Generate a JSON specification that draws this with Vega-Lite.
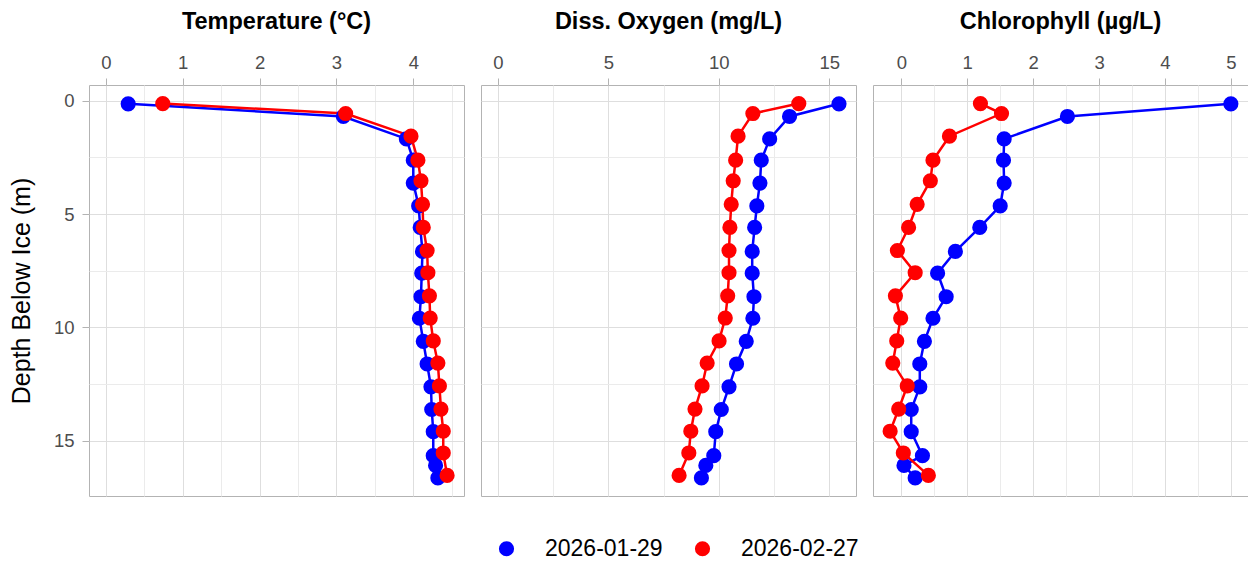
{
  "$schema": "https://vega.github.io/schema/vega-lite/v6.json",
  "padding": {"left": 8, "top": 9, "right": 2, "bottom": 2},
  "background": "white",
  "data": {"values": [
    {"date": "2026-01-29", "depth": 0.13, "temp": 0.29, "do": 15.44, "chl": 5.00},
    {"date": "2026-01-29", "depth": 0.69, "temp": 3.09, "do": 13.20, "chl": 2.52},
    {"date": "2026-01-29", "depth": 1.68, "temp": 3.91, "do": 12.30, "chl": 1.56},
    {"date": "2026-01-29", "depth": 2.62, "temp": 4.00, "do": 11.92, "chl": 1.55},
    {"date": "2026-01-29", "depth": 3.63, "temp": 4.00, "do": 11.86, "chl": 1.56},
    {"date": "2026-01-29", "depth": 4.64, "temp": 4.07, "do": 11.72, "chl": 1.50},
    {"date": "2026-01-29", "depth": 5.59, "temp": 4.09, "do": 11.62, "chl": 1.19},
    {"date": "2026-01-29", "depth": 6.65, "temp": 4.12, "do": 11.51, "chl": 0.82},
    {"date": "2026-01-29", "depth": 7.61, "temp": 4.11, "do": 11.51, "chl": 0.55},
    {"date": "2026-01-29", "depth": 8.65, "temp": 4.10, "do": 11.59, "chl": 0.68},
    {"date": "2026-01-29", "depth": 9.60, "temp": 4.08, "do": 11.54, "chl": 0.48},
    {"date": "2026-01-29", "depth": 10.62, "temp": 4.13, "do": 11.24, "chl": 0.35},
    {"date": "2026-01-29", "depth": 11.62, "temp": 4.18, "do": 10.80, "chl": 0.28},
    {"date": "2026-01-29", "depth": 12.63, "temp": 4.23, "do": 10.46, "chl": 0.28},
    {"date": "2026-01-29", "depth": 13.63, "temp": 4.24, "do": 10.11, "chl": 0.15},
    {"date": "2026-01-29", "depth": 14.61, "temp": 4.26, "do": 9.86, "chl": 0.15},
    {"date": "2026-01-29", "depth": 15.67, "temp": 4.26, "do": 9.77, "chl": 0.32},
    {"date": "2026-01-29", "depth": 16.10, "temp": 4.29, "do": 9.41, "chl": 0.04},
    {"date": "2026-01-29", "depth": 16.65, "temp": 4.32, "do": 9.21, "chl": 0.21},
    {"date": "2026-02-27", "depth": 0.12, "temp": 0.74, "do": 13.62, "chl": 1.20},
    {"date": "2026-02-27", "depth": 0.56, "temp": 3.12, "do": 11.54, "chl": 1.52},
    {"date": "2026-02-27", "depth": 1.56, "temp": 3.97, "do": 10.87, "chl": 0.73},
    {"date": "2026-02-27", "depth": 2.62, "temp": 4.06, "do": 10.76, "chl": 0.48},
    {"date": "2026-02-27", "depth": 3.53, "temp": 4.10, "do": 10.65, "chl": 0.44},
    {"date": "2026-02-27", "depth": 4.57, "temp": 4.12, "do": 10.56, "chl": 0.24},
    {"date": "2026-02-27", "depth": 5.59, "temp": 4.13, "do": 10.50, "chl": 0.11},
    {"date": "2026-02-27", "depth": 6.61, "temp": 4.18, "do": 10.46, "chl": -0.06},
    {"date": "2026-02-27", "depth": 7.59, "temp": 4.19, "do": 10.46, "chl": 0.21},
    {"date": "2026-02-27", "depth": 8.61, "temp": 4.21, "do": 10.40, "chl": -0.09},
    {"date": "2026-02-27", "depth": 9.59, "temp": 4.22, "do": 10.29, "chl": -0.01},
    {"date": "2026-02-27", "depth": 10.60, "temp": 4.26, "do": 10.01, "chl": -0.07},
    {"date": "2026-02-27", "depth": 11.58, "temp": 4.32, "do": 9.47, "chl": -0.13},
    {"date": "2026-02-27", "depth": 12.59, "temp": 4.34, "do": 9.24, "chl": 0.09},
    {"date": "2026-02-27", "depth": 13.61, "temp": 4.36, "do": 8.92, "chl": -0.04},
    {"date": "2026-02-27", "depth": 14.59, "temp": 4.39, "do": 8.73, "chl": -0.17},
    {"date": "2026-02-27", "depth": 15.55, "temp": 4.39, "do": 8.64, "chl": 0.03},
    {"date": "2026-02-27", "depth": 16.54, "temp": 4.44, "do": 8.20, "chl": 0.41}
  ]},
  "spacing": 15,
  "hconcat": [
    {
      "width": 375, "height": 411,
      "title": {"text": "Temperature (°C)"},
      "encoding": {
        "x": {"field": "temp", "type": "quantitative",
          "scale": {"domain": [-0.22, 4.66], "nice": false, "zero": false},
          "axis": {"orient": "top", "title": null, "values": [0,0.5,1,1.5,2,2.5,3,3.5,4,4.5],
            "labelExpr": "datum.value % 1 === 0 ? format(datum.value, 'd') : ''",
            "tickOpacity": {"condition": {"test": "datum.value % 1 === 0", "value": 1}, "value": 0},
            "gridColor": {"condition": {"test": "datum.value % 1 === 0", "value": "#dedede"}, "value": "#ebebeb"}}},
        "y": {"field": "depth", "type": "quantitative",
          "scale": {"domain": [-0.7, 17.45], "reverse": true, "nice": false, "zero": false},
          "axis": {"title": "Depth Below Ice (m)", "values": [0,2.5,5,7.5,10,12.5,15],
            "labelExpr": "datum.value % 5 === 0 ? format(datum.value, 'd') : ''",
            "tickOpacity": {"condition": {"test": "datum.value % 5 === 0", "value": 1}, "value": 0},
            "gridColor": {"condition": {"test": "datum.value % 5 === 0", "value": "#dedede"}, "value": "#ebebeb"}}},
        "color": {"field": "date", "type": "nominal",
          "scale": {"domain": ["2026-01-29", "2026-02-27"], "range": ["#0000ff", "#ff0000"]},
          "legend": {"orient": "none", "direction": "horizontal", "title": null, "legendX": 406, "legendY": 452}}
      },
      "layer": [
        {"mark": {"type": "line", "strokeWidth": 2.5},
         "encoding": {"order": {"field": "depth", "type": "quantitative"}}},
        {"mark": {"type": "circle", "size": 230, "opacity": 1}}
      ]
    },
    {
      "width": 375, "height": 411,
      "title": {"text": "Diss. Oxygen (mg/L)"},
      "encoding": {
        "x": {"field": "do", "type": "quantitative",
          "scale": {"domain": [-0.77, 16.21], "nice": false, "zero": false},
          "axis": {"orient": "top", "title": null, "values": [0,2.5,5,7.5,10,12.5,15],
            "labelExpr": "datum.value % 5 === 0 ? format(datum.value, 'd') : ''",
            "tickOpacity": {"condition": {"test": "datum.value % 5 === 0", "value": 1}, "value": 0},
            "gridColor": {"condition": {"test": "datum.value % 5 === 0", "value": "#dedede"}, "value": "#ebebeb"}}},
        "y": {"field": "depth", "type": "quantitative",
          "scale": {"domain": [-0.7, 17.45], "reverse": true, "nice": false, "zero": false},
          "axis": {"title": null, "values": [0,2.5,5,7.5,10,12.5,15], "labels": false, "ticks": false,
            "gridColor": {"condition": {"test": "datum.value % 5 === 0", "value": "#dedede"}, "value": "#ebebeb"}}},
        "color": {"field": "date", "type": "nominal"}
      },
      "layer": [
        {"mark": {"type": "line", "strokeWidth": 2.5},
         "encoding": {"order": {"field": "depth", "type": "quantitative"}}},
        {"mark": {"type": "circle", "size": 230, "opacity": 1}}
      ]
    },
    {
      "width": 375, "height": 411,
      "title": {"text": "Chlorophyll (µg/L)"},
      "encoding": {
        "x": {"field": "chl", "type": "quantitative",
          "scale": {"domain": [-0.43, 5.26], "nice": false, "zero": false},
          "axis": {"orient": "top", "title": null, "values": [0,0.5,1,1.5,2,2.5,3,3.5,4,4.5,5],
            "labelExpr": "datum.value % 1 === 0 ? format(datum.value, 'd') : ''",
            "tickOpacity": {"condition": {"test": "datum.value % 1 === 0", "value": 1}, "value": 0},
            "gridColor": {"condition": {"test": "datum.value % 1 === 0", "value": "#dedede"}, "value": "#ebebeb"}}},
        "y": {"field": "depth", "type": "quantitative",
          "scale": {"domain": [-0.7, 17.45], "reverse": true, "nice": false, "zero": false},
          "axis": {"title": null, "values": [0,2.5,5,7.5,10,12.5,15], "labels": false, "ticks": false,
            "gridColor": {"condition": {"test": "datum.value % 5 === 0", "value": "#dedede"}, "value": "#ebebeb"}}},
        "color": {"field": "date", "type": "nominal"}
      },
      "layer": [
        {"mark": {"type": "line", "strokeWidth": 2.5},
         "encoding": {"order": {"field": "depth", "type": "quantitative"}}},
        {"mark": {"type": "circle", "size": 230, "opacity": 1}}
      ]
    }
  ],
  "resolve": {"scale": {"color": "shared"}},
  "config": {
    "font": "Liberation Sans",
    "view": {"stroke": "#b3b3b3", "strokeWidth": 1},
    "title": {"fontSize": 23.5, "fontWeight": "bold", "color": "#000000", "anchor": "middle", "offset": 20},
    "axis": {"domain": false, "grid": true, "gridWidth": 1, "tickColor": "#b3b3b3", "tickSize": 7, "tickWidth": 1,
      "labelColor": "#4d4d4d", "labelFontSize": 18.5, "labelPadding": 6,
      "titleFontSize": 25, "titleFontWeight": "normal", "titleColor": "#000000"},
    "axisY": {"labelPadding": 8, "titlePadding": 19},
    "legend": {"labelFont": "Liberation Sans", "symbolType": "circle", "symbolSize": 230, "symbolOpacity": 1,
      "symbolStrokeWidth": 0, "labelFontSize": 23, "labelColor": "#000000", "labelOffset": 27, "columnPadding": 28}
  }
}
